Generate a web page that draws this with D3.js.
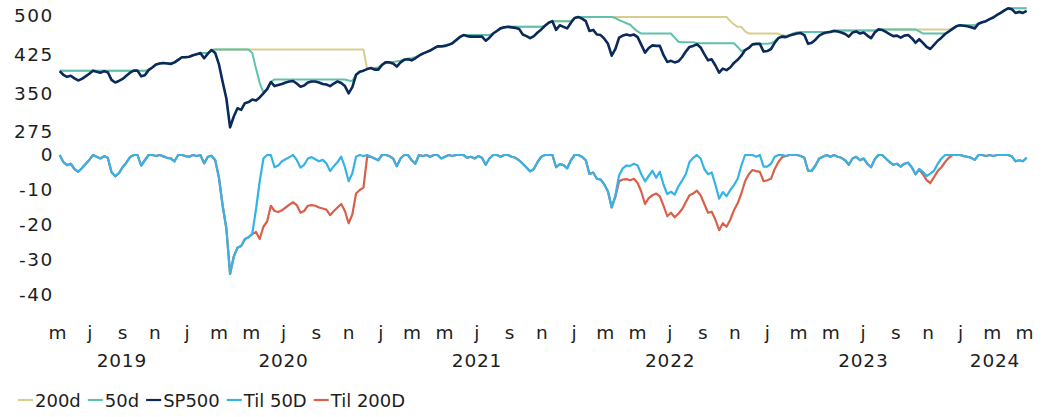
<!DOCTYPE html>
<html><head><meta charset="utf-8">
<script src="https://cdn.jsdelivr.net/npm/d3@7"></script>
<style>
body{margin:0;background:#fff}
text{font-family:"DejaVu Sans",sans-serif;fill:#1e1e1e}
</style>
</head><body>
<svg id="c" width="1043" height="417"></svg>
<script>
// ---------- data (weekly observations starting 2019-05-06) ----------
const startDate = "2019-05-06";
const monthLetters = ["j","f","m","a","m","j","j","a","s","o","n","d"];
const years = [2019, 2020, 2021, 2022, 2023, 2024];
const topTicks = [275, 350, 425, 500];
const bottomTicks = [0, -10, -20, -30, -40];
const seriesNames = ["200d", "50d", "SP500", "Til 50D", "Til 200D"];
const seriesColors = ["#d8cd8c", "#5fc1ab", "#0b2a5b", "#35b2e6", "#d9604b"];

const sp500 = [
393,386,382,384,379,375,378,383,388,394,
392,390,393,391,376,371,374,378,384,390,
394,394,383,385,395,400,406,408,409,408,
407,410,415,420,420,421,424,426,428,418,
427,434,428,406,372,340,284,305,321,318,
331,333,338,336,342,350,358,372,364,366,
368,371,373,374,369,363,365,371,373,373,
371,368,367,364,369,373,370,364,350,362,
386,392,394,397,399,396,396,405,410,410,
408,402,410,415,416,414,418,423,427,430,
433,437,441,441,442,444,447,453,459,463,
461,460,460,460,460,452,458,466,471,476,
478,479,478,477,475,464,461,457,461,468,
474,481,487,490,473,482,479,476,487,496,
498,495,490,471,473,464,463,456,446,423,
436,458,462,464,462,464,459,444,429,438,
443,442,442,424,411,413,410,412,420,431,
440,442,445,439,426,414,416,404,390,398,
395,400,409,415,423,434,438,445,446,446,
431,432,436,448,457,460,459,462,464,466,
467,463,446,448,454,462,466,468,469,471,
470,468,465,460,468,470,466,468,462,457,
468,474,473,469,465,461,462,458,462,463,
457,448,455,448,440,436,444,452,458,465,
470,475,480,482,481,480,478,476,485,488,
490,494,497,502,506,511,515,513,506,508,
506,510];

const max200d = [
394,394,394,394,394,394,394,394,394,394,
394,394,394,394,394,394,394,394,394,394,
394,394,394,394,395,400,406,408,409,409,
409,410,415,420,420,421,424,426,428,428,
428,434,435,435,435,435,435,435,435,435,
435,435,435,435,435,435,435,435,435,435,
435,435,435,435,435,435,435,435,435,435,
435,435,435,435,435,435,435,435,435,435,
435,435,435,397,399,399,400,406,411,411,
411,412,413,416,417,418,420,423,427,430,
433,437,441,442,443,445,447,454,460,463,
463,463,463,463,463,463,463,466,471,476,
478,479,479,479,479,479,479,479,479,479,
479,481,487,490,490,490,490,490,490,496,
498,498,498,498,498,498,498,498,498,498,
498,498,498,498,498,498,498,498,498,498,
498,498,498,498,498,498,498,498,498,498,
498,498,498,498,498,498,498,498,498,498,
498,490,484,479,479,470,466,466,466,466,
466,466,466,466,466,462,461,463,466,468,
469,469,469,469,469,469,469,469,470,472,
472,472,472,472,472,472,472,472,472,472,
472,474,474,474,474,474,474,474,474,474,
474,474,474,474,474,474,474,474,474,474,
474,476,480,482,482,482,482,482,485,488,
490,494,498,502,506,511,515,515,515,515,
515,515];

const max50d = [
394,394,394,394,394,394,394,394,394,394,
394,394,394,394,394,394,394,394,394,394,
394,394,394,394,395,400,406,408,409,409,
409,410,415,420,420,421,424,426,428,428,
428,434,435,435,435,435,435,435,435,435,
435,435,428,398,370,352,358,372,377,377,
377,377,377,377,377,377,377,377,377,377,
377,377,377,377,377,377,377,377,375,374,
386,392,394,397,399,399,400,406,411,411,
411,412,413,416,417,418,420,423,427,430,
433,437,441,442,443,445,447,454,460,463,
463,463,463,463,463,463,463,466,471,476,
478,479,479,479,479,479,479,479,479,479,
479,481,487,490,490,490,490,490,490,496,
498,498,498,498,498,498,498,498,498,498,
496,492,489,486,483,476,470,466,466,466,
466,466,466,466,466,466,458,450,449,449,
449,449,447,447,447,447,447,447,447,447,
447,447,447,440,432,434,438,445,446,446,
446,446,447,451,458,462,461,463,466,468,
469,469,469,469,469,469,469,469,470,472,
472,472,472,472,472,472,472,472,472,472,
472,474,474,474,474,474,474,474,474,474,
474,474,470,466,466,466,466,466,466,466,
470,476,480,482,482,482,482,482,485,488,
490,494,498,502,506,511,515,515,515,515,
515,515];

const til50d = [
0,-2,-2.9,-2.5,-4,-4.8,-3.8,-2.6,-1.4,0,
-0.5,-1,-0.3,-0.8,-4.9,-6.1,-5.2,-3.5,-2.2,-0.6,
0,0,-3,-1.5,0,0,-0.3,0,-0.4,-0.8,
-1,-1.8,0,0,-0.3,-0.5,0,-0.3,0,-2.4,
-0.5,-0.2,-1.5,-6.5,-14.5,-21,-34,-29,-26.5,-26,
-24,-23.5,-22.4,-15.5,-7.5,-1,0,0,-3.5,-3,
-1.8,-1.2,-0.6,0,-1.4,-3.6,-2.8,-1,-0.6,-1.2,
-1.8,-1.4,-2.4,-4.6,-3.2,-2,-0.5,-3.5,-7.5,-5.2,
-0.5,0,-0.3,0,-0.5,-1,-1.5,0,0,-0.3,
-1,-3.2,-1,0,0,-1.5,-2.5,0,-0.3,0,
-0.5,0,0,-1,-0.5,0,-0.3,0,0,0,
-0.8,-0.5,-1,-0.3,-0.8,-2.8,-1,0,0,-0.5,
0,0,-0.5,-0.8,-1.5,-2.5,-3.6,-4.7,-4,-2,
-0.5,0,0,0,-3.5,-2.6,-2.9,-3.8,-1.5,0,
0,-0.5,-1.5,-5.4,-5,-6.8,-7,-8.4,-10.4,-15,
-11.5,-5.8,-3.8,-3,-3.1,-2.5,-3,-5.5,-7.5,-6,
-4.5,-6.5,-4.8,-8.5,-11.2,-10.5,-11.3,-9,-7.3,-5.5,
-2,-0.8,0,-1,-4,-5.5,-5,-8.5,-12.5,-10.6,
-11.8,-10,-8.6,-6.8,-3,0,0,0,-0.5,0,
-3.3,-3.3,-2.5,-0.5,0,0,-0.3,0,0,0,
-0.3,-0.8,-4.5,-4.5,-3,-1,-0.5,0,-0.5,0,
-0.5,-0.8,-1.5,-2.8,-1,-0.5,-1.5,-1,-2.5,-3.5,
-1.2,0,0,-1,-2,-2.8,-2.5,-3.3,-2.5,-2.2,
-3.5,-5.5,-4,-4.8,-6,-5.3,-4.5,-2.5,-1,0,
0,0,0,0,-0.3,-0.5,-0.8,-1.4,0,0,
-0.3,0,-0.3,0,0,0,0,-0.4,-1.8,-1.5,
-1.8,-0.8];

const til200d = [
0,-2,-2.9,-2.5,-4,-4.8,-3.8,-2.6,-1.4,0,
-0.5,-1,-0.3,-0.8,-4.9,-6.1,-5.2,-3.5,-2.2,-0.6,
0,0,-3,-1.5,0,0,-0.3,0,-0.4,-0.8,
-1,-1.8,0,0,-0.3,-0.5,0,-0.3,0,-2.4,
-0.5,-0.2,-1.5,-6.5,-14.5,-21,-34,-29,-26.5,-26,
-24,-23.5,-22.6,-22,-24,-20.5,-19,-14.5,-16,-16.3,
-15.8,-15,-14.2,-13.5,-14.3,-16.5,-16,-14.5,-14.3,-14.5,
-15,-15.3,-15.6,-17.2,-16,-15,-14,-16,-19.5,-17,
-11,-10,-9.3,-0.5,-0.5,-1,-1.5,0,0,-0.3,
-1,-3.2,-1,0,0,-1.5,-2.5,0,-0.3,0,
-0.5,0,0,-1,-0.5,0,-0.3,0,0,0,
-0.8,-0.5,-1,-0.3,-0.8,-2.8,-1,0,0,-0.5,
0,0,-0.5,-0.8,-1.5,-2.5,-3.6,-4.7,-4,-2,
-0.5,0,0,0,-3.5,-2.6,-2.9,-3.8,-1.5,0,
0,-0.5,-1.5,-5.4,-5,-6.8,-7,-8.4,-10.4,-15,
-12,-7.5,-7,-6.9,-7.2,-6.8,-8,-10.5,-14,-12.3,
-11.5,-11,-11.8,-14.5,-17.5,-16.5,-17.8,-16.8,-15.5,-13.5,
-11.5,-11,-10.2,-11.5,-14,-16.5,-16.2,-18.5,-21.5,-19.5,
-20.5,-18.5,-15.8,-13.8,-11,-7.5,-5.5,-4.3,-4.6,-4.8,
-7.5,-7.2,-6.8,-4,-2,-0.6,-0.3,0,0,0,
-0.3,-0.8,-4.5,-4.5,-3,-1,-0.5,0,-0.5,0,
-0.5,-0.8,-1.5,-2.8,-1,-0.5,-1.5,-1,-2.5,-3.5,
-1.2,0,0,-1,-2,-2.8,-2.5,-3.3,-2.5,-2.2,
-3.5,-5.5,-4.2,-5.5,-7.2,-8,-6.3,-4.6,-3.5,-2,
-0.8,0,0,0,-0.3,-0.5,-0.8,-1.4,0,0,
-0.3,0,-0.3,0,0,0,0,-0.4,-1.8,-1.5,
-1.8,-0.8];

// ---------- chart ----------
const svg = d3.select("#c");
const parse = d3.utcParse("%Y-%m-%d");
const t0 = parse(startDate);
const dates = sp500.map((_, i) => d3.utcDay.offset(t0, 7 * i));

const x = d3.scaleUtc()
  .domain([parse("2019-05-01"), parse("2024-05-01")])
  .range([57, 1024]);
const axisStart = parse("2019-05-01");
const axisEnd = x.invert(1030);

const yTop = d3.scaleLinear().domain([275, 500]).range([132, 16]);
const yBot = d3.scaleLinear().domain([-40, 0]).range([295, 155]);

function drawLine(values, yScale, color, width) {
  const line = d3.line()
    .x((d, i) => x(dates[i]))
    .y(d => yScale(d))
    .curve(d3.curveLinear);
  svg.append("path")
    .datum(values)
    .attr("d", line)
    .attr("fill", "none")
    .attr("stroke", color)
    .attr("stroke-width", width)
    .attr("stroke-linejoin", "round");
}

drawLine(max200d, yTop, seriesColors[0], 2);
drawLine(max50d, yTop, seriesColors[1], 2);
drawLine(sp500, yTop, seriesColors[2], 2.6);
drawLine(til200d, yBot, seriesColors[4], 2.2);
drawLine(til50d, yBot, seriesColors[3], 2.2);

// y axes
function yAxis(scale, ticks) {
  const g = svg.append("g").attr("transform", "translate(54,0)")
    .call(d3.axisLeft(scale).tickValues(ticks).tickSize(0).tickPadding(0)
      .tickFormat(d => String(d)));
  g.select(".domain").remove();
  g.selectAll("text")
    .attr("font-size", 18.5)
    .attr("letter-spacing", "1.6px")
    .attr("font-family", "DejaVu Sans")
    .style("fill", "#1e1e1e");
}
yAxis(yTop, topTicks);
yAxis(yBot, bottomTicks);

// month letters
const monthTicks = d3.utcMonth.every(2).range(parse("2019-05-01"), parse("2024-05-02"));
const gx = svg.append("g").attr("transform", "translate(0,326)")
  .call(d3.axisBottom(x).tickValues(monthTicks).tickSize(0).tickPadding(0)
    .tickFormat(d => monthLetters[d.getUTCMonth()]));
gx.select(".domain").remove();
gx.selectAll("text").attr("font-size", 18.5).attr("font-family", "DejaVu Sans").style("fill", "#1e1e1e");

// year labels centred over their span
svg.append("g").selectAll("text").data(years).join("text")
  .attr("x", yr => {
    const a = d3.max([parse(yr + "-01-01"), axisStart]);
    const b = d3.min([parse((yr + 1) + "-01-01"), axisEnd]);
    return (x(a) + x(b)) / 2;
  })
  .attr("y", 367)
  .attr("text-anchor", "middle")
  .attr("font-size", 18.5)
  .attr("letter-spacing", "0.8px")
  .text(d => d);

// legend, laid out item after item
const leg = svg.append("g");
let lx = 18;
seriesNames.forEach((name, i) => {
  leg.append("line")
    .attr("x1", lx).attr("x2", lx + 15)
    .attr("y1", 400).attr("y2", 400)
    .attr("stroke", seriesColors[i]).attr("stroke-width", 2.2);
  const t = leg.append("text")
    .attr("x", lx + 17).attr("y", 407)
    .attr("font-size", 18)
    .text(name);
  lx += 17 + t.node().getComputedTextLength() + 7;
});
</script>
</body></html>
